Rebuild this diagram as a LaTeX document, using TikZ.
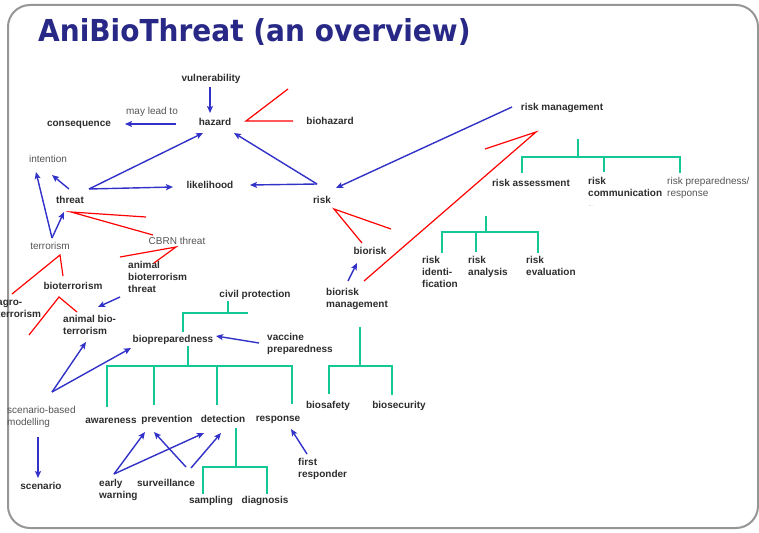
\documentclass[tikz,border=0pt]{standalone}
\usepackage{fontspec}
\setmainfont{Liberation Sans}
\newfontfamily\titlefont{DejaVu Sans}
\usetikzlibrary{arrows.meta}

\definecolor{linkblue}{RGB}{50,50,200}
\definecolor{treegreen}{RGB}{20,200,150}
\definecolor{titleblue}{RGB}{40,40,135}
\definecolor{labelgray}{RGB}{45,45,45}
\definecolor{softgray}{RGB}{85,85,85}
\definecolor{framegray}{RGB}{150,150,150}

% invisible strut fixing the height of the first line of stacked labels
\newcommand\lblstrut{\rule{0pt}{8pt}}

\tikzset{
  term/.style={font=\fontsize{10}{12}\selectfont\bfseries, text=labelgray, inner sep=0pt, anchor=base},
  plain/.style={font=\fontsize{10}{12}\selectfont, text=softgray, inner sep=0pt, anchor=base},
  multi/.style={align=left, anchor=north west},
  link/.style={draw=linkblue, line width=1.4pt, -{Stealth[length=7pt,width=6pt,inset=1.5pt]}},
  tie/.style={draw=red, line width=1.2pt, line join=miter},
  tree/.style={draw=treegreen, line width=2.4pt, line join=miter},
}

\begin{document}
\begin{tikzpicture}[x=1pt, y=-1pt]
\useasboundingbox (0,0) rectangle (759,532);
\fill[white] (0,0) rectangle (759,532);
\draw[framegray, line width=2pt, rounded corners=22pt] (8,5) rectangle (758,528);

\node[anchor=base west, inner sep=0pt, text=titleblue,
      font=\titlefont\bfseries\fontsize{28}{30}\selectfont] (title) at (38,42) {\scalebox{1}[1.08]{AniBioThreat (an overview)}};

% ---------- labels ----------
\node[term] (vul) at (211,81.5) {vulnerability};
\node[term] (haz) at (215,125.5) {hazard};
\node[term] (cons) at (79,126.5) {consequence};
\node[plain] (lead) at (152,114.5) {may lead to};
\node[term] (bhaz) at (330,124.5) {biohazard};
\node[term] (rm) at (562,110.5) {risk management};
\node[plain] (int) at (48,162.5) {intention};
\node[term] (thr) at (70,203.5) {threat};
\node[term] (lik) at (210,188.5) {likelihood};
\node[term] (risk) at (322,203.5) {risk};
\node[term] (ra) at (531,186.5) {risk assessment};
\node[term, multi] (rc) at (588,176.5) {\lblstrut risk\\communication};
\node[plain, font=\fontsize{4}{5}\selectfont] (rcmore) at (591,206) {...};
\node[plain, multi] (rp) at (667,176.5) {\lblstrut risk preparedness/\\response};
\node[plain] (ter) at (50,249.5) {terrorism};
\node[plain] (cbrn) at (177,244.5) {CBRN threat};
\node[term] (brisk) at (370,254.5) {biorisk};
\node[term, multi] (abt) at (128,260.5) {\lblstrut animal\\bioterrorism\\threat};
\node[term] (bter) at (73,289.5) {bioterrorism};
\node[term, multi] (agro) at (-3,297.5) {\lblstrut agro-\\terrorism};
\node[term, multi] (abio) at (63,314.5) {\lblstrut animal bio-\\terrorism};
\node[term] (civ) at (255,297.5) {civil protection};
\node[term, multi] (brm) at (326,287.5) {\lblstrut biorisk\\management};
\node[term] (biop) at (173,342.5) {biopreparedness};
\node[term, multi] (vac) at (267,332.5) {\lblstrut vaccine\\preparedness};
\node[plain, multi] (sbm) at (7,405.5) {\lblstrut scenario-based\\modelling};
\node[term] (aware) at (111,423.5) {awareness};
\node[term] (prev) at (167,422.5) {prevention};
\node[term] (det) at (223,422.5) {detection};
\node[term] (resp) at (278,421.5) {response};
\node[term] (bsaf) at (328,408.5) {biosafety};
\node[term] (bsec) at (399,408.5) {biosecurity};
\node[term, multi] (fr) at (298,457.5) {\lblstrut first\\responder};
\node[term] (scen) at (41,489.5) {scenario};
\node[term, multi] (ew) at (99,478.5) {\lblstrut early\\warning};
\node[term] (surv) at (166,486.5) {surveillance};
\node[term] (samp) at (211,503.5) {sampling};
\node[term] (diag) at (265,503.5) {diagnosis};
\node[term, multi] (rid) at (422,255.5) {\lblstrut risk\\identi-\\fication};
\node[term, multi] (ran) at (468,255.5) {\lblstrut risk\\analysis};
\node[term, multi] (rev) at (526,255.5) {\lblstrut risk\\evaluation};

% ---------- connector ends ----------
\coordinate (vul-s) at (210,87);    \coordinate (haz-n) at (210,113);
\coordinate (haz-w) at (176,124);   \coordinate (cons-e) at (125,124);
\coordinate (thr-ne) at (89,189);   \coordinate (haz-sw) at (203,133);
\coordinate (lik-w) at (173,187);   \coordinate (risk-nw) at (317,184);
\coordinate (haz-se) at (234,133);  \coordinate (lik-e) at (250,185);
\coordinate (rm-w) at (512,107);    \coordinate (risk-ne) at (336,188);
\coordinate (thr-n) at (69,189);    \coordinate (int-se) at (52,175);
\coordinate (ter-n) at (52,238);    \coordinate (int-s) at (36,172);
\coordinate (thr-sw) at (64,212);
\coordinate (abt-sw) at (120,297);  \coordinate (abio-ne) at (98,307);
\coordinate (sbm-ne) at (52,392);   \coordinate (abio-s) at (86,342);
\coordinate (biop-sw) at (131,348);
\coordinate (vac-w) at (259,343);   \coordinate (biop-e) at (216,336);
\coordinate (sbm-s) at (38,437);    \coordinate (scen-n) at (38,478);
\coordinate (ew-ne) at (114,474);   \coordinate (prev-s) at (145,432);
\coordinate (det-sw) at (204,433);
\coordinate (surv-nw) at (186,467); \coordinate (prev-se) at (154,432);
\coordinate (surv-ne) at (191,468); \coordinate (det-s) at (221,433);
\coordinate (fr-n) at (307,454);    \coordinate (resp-s) at (291,429);
\coordinate (brm-n) at (348,281);   \coordinate (brisk-s) at (357,263);

% ---------- arrows ----------
\draw[link] (vul-s) -- (haz-n);
\draw[link] (haz-w) -- (cons-e);
\draw[link] (thr-ne) -- (haz-sw);
\draw[link] (thr-ne) -- (lik-w);
\draw[link] (risk-nw) -- (haz-se);
\draw[link] (risk-nw) -- (lik-e);
\draw[link] (rm-w) -- (risk-ne);
\draw[link] (thr-n) -- (int-se);
\draw[link] (ter-n) -- (int-s);
\draw[link] (ter-n) -- (thr-sw);
\draw[link] (abt-sw) -- (abio-ne);
\draw[link] (sbm-ne) -- (abio-s);
\draw[link] (sbm-ne) -- (biop-sw);
\draw[link] (vac-w) -- (biop-e);
\draw[link] (sbm-s) -- (scen-n);
\draw[link] (ew-ne) -- (prev-s);
\draw[link] (ew-ne) -- (det-sw);
\draw[link] (surv-nw) -- (prev-se);
\draw[link] (surv-ne) -- (det-s);
\draw[link] (fr-n) -- (resp-s);
\draw[link] (brm-n) -- (brisk-s);

% ---------- red specialisation ties ----------
\draw[tie] (288,89) -- (246,121) -- (293,121);
\draw[tie] (485,149) -- (536,132) -- (364,281);
\draw[tie] (146,217) -- (71,212) -- (153,235);
\draw[tie] (120,257) -- (176,247) -- (154,263);
\draw[tie] (12,294) -- (60,255) -- (63,276);
\draw[tie] (77,312) -- (59,297) -- (29,335);
\draw[tie] (391,229) -- (334,209) -- (362,243);

% ---------- green part-of brackets ----------
\draw[tree] (578,139) -- (578,157);
\draw[tree] (522,173) -- (522,157) -- (680,157) -- (680,173);
\draw[tree] (604,157) -- (604,172);

\draw[tree] (486,216) -- (486,232);
\draw[tree] (442,253) -- (442,232) -- (538,232) -- (538,253);
\draw[tree] (476,232) -- (476,252);

\draw[tree] (228,301) -- (228,313);
\draw[tree] (183,332) -- (183,313) -- (248,313);

\draw[tree] (188,346) -- (188,366);
\draw[tree] (107,407) -- (107,366) -- (292,366) -- (292,404);
\draw[tree] (154,366) -- (154,405);
\draw[tree] (217,366) -- (217,405);

\draw[tree] (360,327) -- (360,366);
\draw[tree] (329,394) -- (329,366) -- (392,366) -- (392,395);

\draw[tree] (236,428) -- (236,467);
\draw[tree] (203,494) -- (203,467) -- (267,467) -- (267,494);
\end{tikzpicture}
\end{document}
